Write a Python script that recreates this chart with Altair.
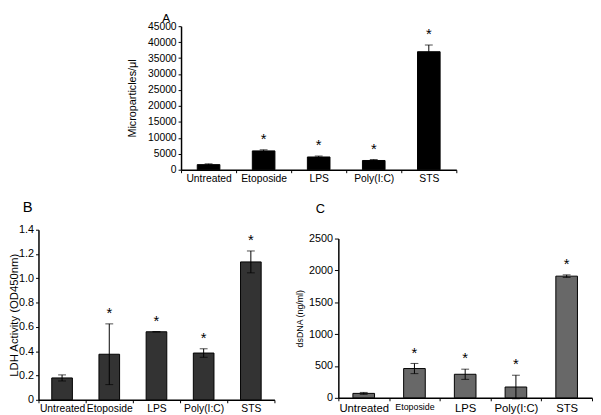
import altair as alt
import pandas as pd

categories = ["Untreated", "Etoposide", "LPS", "Poly(I:C)", "STS"]
significant = [False, True, True, True, True]

# Panel A: microparticles per microlitre
mp_mean = [1600, 5900, 4000, 2900, 37000]
mp_err = [250, 350, 300, 300, 2100]

# Panel B: LDH activity (OD450nm)
ldh_mean = [0.18, 0.375, 0.56, 0.385, 1.135]
ldh_err = [0.025, 0.25, 0.0, 0.035, 0.09]

# Panel C: dsDNA (ng/ml)
dna_mean = [70, 460, 370, 170, 1910]
dna_err = [15, 80, 80, 185, 20]

FONT = "Liberation Sans"


def frame(mean, err):
    df = pd.DataFrame({"cat": categories, "mean": mean, "err": err})
    df["lo"] = df["mean"] - df["err"]
    df["hi"] = df["mean"] + df["err"]
    df["star"] = ["*" if s else "" for s in significant]
    return df


def panel(df, letter, letter_size, letter_offset, letter_dx, ytitle, ytitle_size,
          yvalues, width, height, yrange, fill, bar_size, xlabel_size, ylabel_size,
          extent, title_pad, ylabel_expr, xlabel_font_expr=None, ytick=3, xpad=1,
          letter_baseline="bottom"):
    xaxis_kwargs = dict(
        labelAngle=0, tickBand="extent", domainColor="black", domainWidth=1.5,
        tickColor="black", tickSize=3, labelFont=FONT, labelColor="black",
        labelPadding=xpad, title=None, labelFontSize=xlabel_size, labelOverlap=False,
    )
    if xlabel_font_expr is not None:
        xaxis_kwargs["labelFontSize"] = alt.ExprRef(xlabel_font_expr)
    xscale = alt.Scale(paddingInner=0, paddingOuter=0)
    xaxis = alt.Axis(**xaxis_kwargs)
    yscale = alt.Scale(domain=[yvalues[0], yvalues[-1]], nice=False, range=yrange)
    yaxis = alt.Axis(values=yvalues, labelExpr=ylabel_expr, grid=False,
                     domainColor="black", domainWidth=1.5, tickColor="black",
                     tickSize=ytick, labelFont=FONT, labelFontSize=ylabel_size,
                     labelColor="black", labelPadding=2, labelOverlap=False,
                     title=ytitle, titleFont=FONT, titleFontSize=ytitle_size,
                     titleFontWeight="normal", titleColor="black",
                     titlePadding=title_pad, minExtent=extent, maxExtent=extent)

    def X():
        return alt.X("cat:N", sort=categories, scale=xscale, axis=xaxis)

    def Y(field):
        return alt.Y(field, scale=yscale, axis=yaxis)

    base = alt.Chart(df)
    bars = base.mark_bar(size=bar_size, color=fill, stroke="black", strokeWidth=1).encode(
        x=X(), y=Y("mean:Q"))
    rule = base.mark_rule(color="black", strokeWidth=1).encode(
        x=X(), y=Y("lo:Q"), y2="hi:Q")
    cap_hi = base.mark_tick(color="black", size=8, thickness=1, orient="horizontal").encode(
        x=X(), y=Y("hi:Q"))
    cap_lo = base.mark_tick(color="black", size=8, thickness=1, orient="horizontal").encode(
        x=X(), y=Y("lo:Q"))
    stars = base.mark_text(font=FONT, fontSize=15, baseline="middle", dy=-11, color="black").encode(
        x=X(), y=Y("hi:Q"), text="star:N")
    return alt.layer(bars, rule, cap_hi, cap_lo, stars).properties(
        width=width, height=height,
        title=alt.TitleParams(letter, anchor="start", frame="group", fontSize=letter_size,
                              font=FONT, fontWeight="normal", color="black",
                              baseline=letter_baseline, offset=letter_offset, dx=letter_dx),
    )


chart_a = panel(
    frame(mp_mean, mp_err), "A", 12, -4, -19, "Microparticles/\u03bcl", 11,
    list(range(0, 45001, 5000)), 280, 146, [146, 0], "#000000", 23, 10.5, 10.5,
    35, 9.5, "format(datum.value, 'd')", letter_baseline="top")

chart_b = panel(
    frame(ldh_mean, ldh_err), "B", 15, -6, -16, "LDH Activity (OD450nm)", 11.5,
    [0, 0.2, 0.4, 0.6, 0.8, 1.0, 1.2, 1.4], 240, 173, [173, 0], "#333333", 21, 10.5, 11,
    19, 0, "datum.value == 0 ? '0' : format(datum.value, '.1f')")

chart_c = panel(
    frame(dna_mean, dna_err), "C", 13, 1, -23, "dsDNA (ng/ml)", 9,
    [0, 500, 1000, 1500, 2000, 2500], 258, 171, [171, 9], "#686868", 22, 11.5, 11,
    31, 3, "format(datum.value, 'd')",
    xlabel_font_expr="datum.value == 'Etoposide' ? 9 : 11.5", ytick=4, xpad=2)

spacer = alt.Chart(pd.DataFrame({"v": [0]})).mark_point(opacity=0).encode(
    x=alt.value(0), y=alt.value(0)).properties(width=88, height=10)

top = alt.hconcat(spacer, chart_a, spacing=0)
bottom = alt.hconcat(chart_b, chart_c, spacing=20)

chart = alt.vconcat(top, bottom, spacing=15).properties(
    padding=0, background="white"
).configure_view(stroke="transparent").configure_axis(labelOverlap=False)

chart.save("out.html", embed_options={"renderer": "svg", "actions": False})
